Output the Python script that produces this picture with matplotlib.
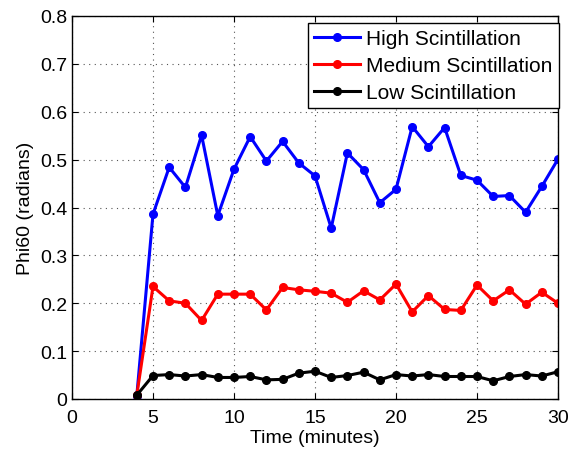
import matplotlib
matplotlib.use('Agg')
import matplotlib.pyplot as plt
import numpy as np

plt.rcParams['font.family'] = ['Liberation Sans', 'DejaVu Sans']

# time axis (minutes)
t = list(range(4, 31))

high = [0.007, 0.386, 0.484, 0.442, 0.551, 0.383, 0.480, 0.548, 0.497, 0.538,
        0.493, 0.466, 0.357, 0.514, 0.479, 0.410, 0.438, 0.569, 0.527, 0.567,
        0.467, 0.457, 0.423, 0.425, 0.390, 0.444, 0.501]
medium = [0.008, 0.235, 0.205, 0.200, 0.164, 0.219, 0.219, 0.219, 0.186, 0.233,
          0.228, 0.225, 0.221, 0.202, 0.226, 0.207, 0.240, 0.182, 0.216, 0.187,
          0.185, 0.238, 0.205, 0.228, 0.198, 0.223, 0.200]
low = [0.008, 0.049, 0.051, 0.048, 0.051, 0.045, 0.045, 0.047, 0.040, 0.041,
       0.054, 0.058, 0.045, 0.049, 0.056, 0.040, 0.051, 0.048, 0.051, 0.047,
       0.047, 0.047, 0.038, 0.047, 0.051, 0.048, 0.057]

labels = ['High Scintillation', 'Medium Scintillation', 'Low Scintillation']
colors = ['#0000ff', '#ff0000', '#000000']

fig = plt.figure(figsize=(5.72, 4.52), dpi=100)
ax = fig.add_axes([72/572, 1-400/452, 486/572, 383/452])

for y, c, lab in zip([high, medium, low], colors, labels):
    ax.plot(t, y, '-o', color=c, lw=2.2, ms=5.5, label=lab)

ax.set_xlim(0, 30)
ax.set_ylim(0, 0.8)
ax.set_xticks(np.arange(0, 31, 5))
ax.set_yticks(np.arange(0, 0.81, 0.1))
ax.set_yticklabels(['0', '0.1', '0.2', '0.3', '0.4', '0.5', '0.6', '0.7', '0.8'])
ax.grid(True, linestyle=(0, (1, 4)), color='#555555', lw=0.8)
ax.tick_params(direction='in', top=True, right=True, labelsize=14, length=4, width=0.8)
ax.tick_params(axis='x', pad=7.5)
for s in ax.spines.values():
    s.set_linewidth(1.0)

ax.set_xlabel('Time (minutes)', fontsize=14, labelpad=2)
ax.set_ylabel('Phi60 (radians)', fontsize=14, labelpad=4)

leg = ax.legend(loc='upper right', fontsize=15, fancybox=False, framealpha=1,
                edgecolor='black', borderpad=0.3, labelspacing=0.38,
                handlelength=2.2, handletextpad=0.3, borderaxespad=0,
                markerscale=1.0, bbox_to_anchor=(1.002, 0.982))
leg.get_frame().set_linewidth(1.0)

fig.savefig('out.png', dpi=100)
